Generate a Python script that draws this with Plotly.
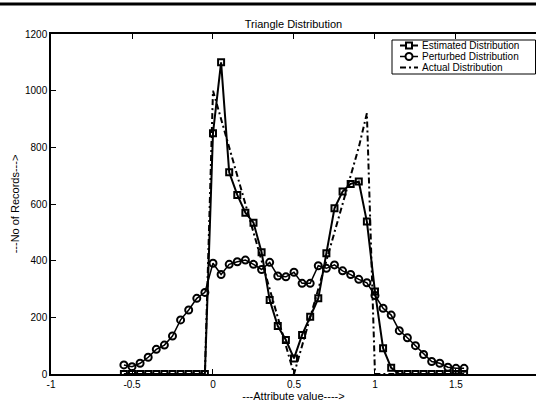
import plotly.graph_objects as go

# ---- data ----
attr_x = [-0.55, -0.50, -0.45, -0.40, -0.35, -0.30, -0.25, -0.20, -0.15, -0.10, -0.05,
          0.00, 0.05, 0.10, 0.15, 0.20, 0.25, 0.30, 0.35, 0.40, 0.45, 0.50,
          0.55, 0.60, 0.65, 0.70, 0.75, 0.80, 0.85, 0.90, 0.95, 1.00, 1.05,
          1.10, 1.15, 1.20, 1.25, 1.30, 1.35, 1.40, 1.45, 1.50, 1.55]

estimated = [0, 0, 0, 0, 0, 0, 0, 0, 0, 0, 0,
             850, 1100, 712, 632, 569, 534, 430, 261, 169, 120, 55,
             138, 202, 267, 426, 585, 644, 671, 679, 538, 291, 91,
             22, 0, 0, 0, 0, 0, 0, 0, 0, 0]

perturbed = [32, 26, 38, 59, 87, 102, 134, 191, 226, 267, 288,
             391, 351, 387, 396, 402, 387, 369, 394, 346, 343, 359,
             320, 320, 382, 373, 385, 364, 351, 334, 322, 277, 232,
             208, 153, 128, 100, 69, 44, 38, 24, 20, 20]

actual = [0, 0, 0, 0, 0, 0, 0, 0, 0, 0, 0,
          1000, 900, 800, 700, 600, 500, 400, 300, 200, 100, 0,
          100, 200, 300, 400, 500, 600, 700, 800, 920, 0, 0,
          0, 0, 0, 0, 0, 0, 0, 0, 0, 0]

series_names = ["Estimated Distribution", "Perturbed Distribution", "Actual Distribution"]

x_tickvals = [-1, -0.5, 0, 0.5, 1, 1.5, 2]
x_ticktext = ["-1", "-0.5", "0", "0.5", "1", "1.5", "2"]
y_tickvals = [0, 200, 400, 600, 800, 1000, 1200]
y_ticktext = ["0", "200", "400", "600", "800", "1000", "1200"]

FONT = "Liberation Sans, Arial, Helvetica, sans-serif"
DASHDOT = "6px,3px,2px,3px"

# plot-area geometry in pixels (used only to place the hand-made legend box)
W, H = 536, 406
L, R, T, B = 51, 0, 34, 32
PW, PH = W - L - R, H - T - B


def px(x):
    return (x - L) / PW


def py(y):
    return (H - B - y) / PH


fig = go.Figure()
fig.add_trace(go.Scatter(
    x=attr_x, y=estimated, mode="lines+markers", name=series_names[0],
    line=dict(color="black", width=2),
    marker=dict(symbol="square-open", size=6, color="black", line=dict(width=2, color="black")),
))
fig.add_trace(go.Scatter(
    x=attr_x, y=perturbed, mode="lines+markers", name=series_names[1],
    line=dict(color="black", width=1.5),
    marker=dict(symbol="circle-open", size=7, color="black", line=dict(width=2, color="black")),
))
fig.add_trace(go.Scatter(
    x=attr_x, y=actual, mode="lines", name=series_names[2],
    line=dict(color="black", width=2, dash=DASHDOT),
))

axis_common = dict(
    showgrid=False, zeroline=False, showline=True, linecolor="black", linewidth=1.5,
    ticks="inside", ticklen=5, tickwidth=1, tickcolor="black",
    tickfont=dict(family=FONT, size=10, color="black"),
)

fig.update_layout(
    width=W, height=H,
    margin=dict(l=L, r=R, t=T, b=B),
    paper_bgcolor="white", plot_bgcolor="white",
    font=dict(family=FONT, size=10, color="black"),
    title=dict(text="Triangle Distribution", x=0.5, xref="paper", xanchor="center",
               y=1 - 24 / H, yanchor="middle", font=dict(size=11, color="black")),
    xaxis=dict(range=[-1, 1.994], tickvals=x_tickvals, ticktext=x_ticktext, mirror="ticks",
               title=dict(text="---Attribute value---->", font=dict(size=11), standoff=0),
               **axis_common),
    yaxis=dict(range=[0, 1200], tickvals=y_tickvals, ticktext=y_ticktext, mirror=False,
               title=dict(text="---No of Records--->", font=dict(size=11), standoff=3),
               **axis_common),
    showlegend=False,
)

# thick black rule across the very top of the image
fig.add_shape(type="line", xref="paper", yref="paper", x0=-0.2, x1=1.1,
              y0=py(4), y1=py(4), line=dict(color="black", width=3))

# legend box (drawn by hand so rows can be as tight as in the reference)
rows = [45.5, 56.5, 67.5]
fig.add_shape(type="rect", xref="paper", yref="paper", layer="above",
              x0=px(392), x1=px(535.5), y0=py(40), y1=py(74),
              line=dict(color="black", width=1), fillcolor="white")
# Estimated sample
fig.add_shape(type="line", xref="paper", yref="paper", layer="above",
              x0=px(400), x1=px(418), y0=py(rows[0]), y1=py(rows[0]),
              line=dict(color="black", width=2))
fig.add_shape(type="rect", xref="paper", yref="paper", layer="above",
              x0=px(406), x1=px(412), y0=py(rows[0] - 3), y1=py(rows[0] + 3),
              line=dict(color="black", width=2), fillcolor="white")
# Perturbed sample
fig.add_shape(type="line", xref="paper", yref="paper", layer="above",
              x0=px(400), x1=px(418), y0=py(rows[1]), y1=py(rows[1]),
              line=dict(color="black", width=1.5))
fig.add_shape(type="circle", xref="paper", yref="paper", layer="above",
              x0=px(405.5), x1=px(412.5), y0=py(rows[1] - 3.5), y1=py(rows[1] + 3.5),
              line=dict(color="black", width=2), fillcolor="white")
# Actual sample
fig.add_shape(type="line", xref="paper", yref="paper", layer="above",
              x0=px(400), x1=px(418), y0=py(rows[2]), y1=py(rows[2]),
              line=dict(color="black", width=2, dash=DASHDOT))

for name, ry in zip(series_names, rows):
    fig.add_annotation(text=name, xref="paper", yref="paper", x=px(421), y=py(ry),
                       xanchor="left", yanchor="middle", showarrow=False,
                       font=dict(family=FONT, size=10, color="black"), borderpad=0)

fig.write_html("out.html")
